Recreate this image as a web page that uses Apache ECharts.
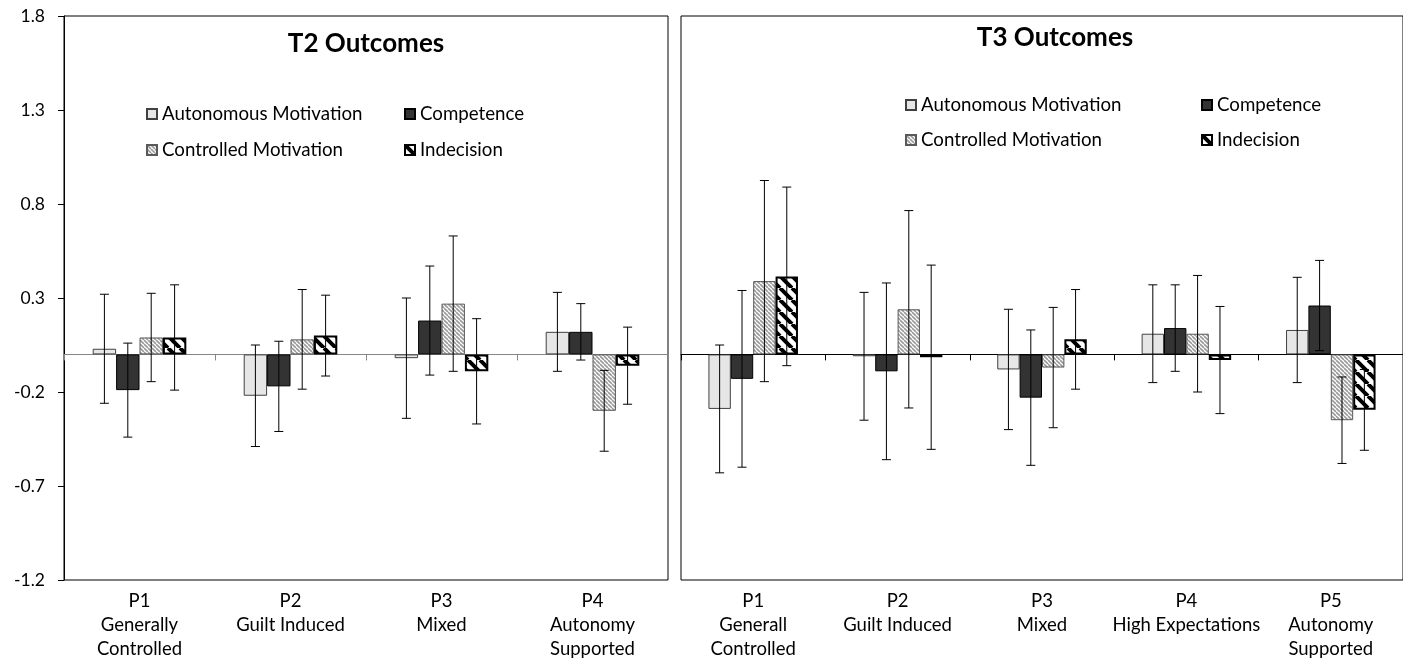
<!DOCTYPE html>
<html>
<head>
<meta charset="utf-8">
<script src="https://cdn.jsdelivr.net/npm/echarts@6/dist/echarts.min.js"></script>
<style>
  html, body { margin: 0; padding: 0; background: #fff; }
  #main { width: 1403px; height: 661px; }
</style>
</head>
<body>
<div id="main"></div>
<script>
var measures = ['Autonomous Motivation', 'Competence', 'Controlled Motivation', 'Indecision'];
var yTicks = [-1.2, -0.7, -0.2, 0.3, 0.8, 1.3, 1.8];

// T2 outcomes (4 profiles)
var t2Cats = ['P1\nGenerally\nControlled', 'P2\nGuilt Induced', 'P3\nMixed', 'P4\nAutonomy\nSupported'];
var t2Auto = [0.03, -0.22, -0.02, 0.12];
var t2Comp = [-0.19, -0.17, 0.18, 0.12];
var t2Ctrl = [0.09, 0.08, 0.27, -0.30];
var t2Indec = [0.09, 0.10, -0.09, -0.06];
var t2AutoErr = [0.29, 0.27, 0.32, 0.21];
var t2CompErr = [0.25, 0.24, 0.29, 0.15];
var t2CtrlErr = [0.235, 0.265, 0.36, 0.215];
var t2IndecErr = [0.28, 0.215, 0.28, 0.205];

// T3 outcomes (5 profiles)
var t3Cats = ['P1\nGenerall\nControlled', 'P2\nGuilt Induced', 'P3\nMixed', 'P4\nHigh Expectations', 'P5\nAutonomy\nSupported'];
var t3Auto = [-0.29, -0.01, -0.08, 0.11, 0.13];
var t3Comp = [-0.13, -0.09, -0.23, 0.14, 0.26];
var t3Ctrl = [0.39, 0.24, -0.07, 0.11, -0.35];
var t3Indec = [0.415, -0.015, 0.08, -0.03, -0.295];
var t3AutoErr = [0.34, 0.34, 0.32, 0.26, 0.28];
var t3CompErr = [0.47, 0.47, 0.36, 0.23, 0.24];
var t3CtrlErr = [0.535, 0.525, 0.32, 0.31, 0.23];
var t3IndecErr = [0.475, 0.49, 0.265, 0.285, 0.215];

var FONT = 'Lato';

// diagonal "\" stripes as a canvas pattern
function stripes(size, width, color) {
    var c = document.createElement('canvas');
    c.width = size; c.height = size;
    var g = c.getContext('2d');
    g.fillStyle = '#fff';
    g.fillRect(0, 0, size, size);
    g.strokeStyle = color;
    g.lineWidth = width;
    g.beginPath();
    for (var k = -1; k <= 1; k++) {
        g.moveTo(k * size, 0);
        g.lineTo(k * size + size, size);
    }
    g.stroke();
    return c;
}

var styles = [
    {color: '#e6e6e6', borderColor: '#404040', borderWidth: 1},
    {color: '#333333', borderColor: '#000', borderWidth: 1},
    {color: {image: stripes(4, 1.6, '#9a9a9a'), repeat: 'repeat'}, borderColor: '#595959', borderWidth: 1},
    {color: {image: stripes(12, 4, '#000'), repeat: 'repeat'}, borderColor: '#000', borderWidth: 2}
];

function barSeries(g, k, vals) {
    return {
        name: measures[k],
        type: 'bar',
        xAxisIndex: g * 2,
        yAxisIndex: g,
        data: vals,
        barGap: '0%',
        barCategoryGap: '38%',
        itemStyle: styles[k],
        emphasis: {disabled: true},
        z: 2
    };
}

function errSeries(g, k, vals, errs) {
    var data = vals.map(function (v, i) { return [i, v - errs[i], v + errs[i]]; });
    return {
        type: 'custom',
        xAxisIndex: g * 2,
        yAxisIndex: g,
        data: data,
        encode: {x: 0, y: [1, 2]},
        silent: true,
        z: 4,
        renderItem: function (params, api) {
            var i = api.value(0);
            var band = api.size([1, 0])[0];
            var bw = band * 0.62 / 4;
            var x = api.coord([i, 0])[0] + (k - 1.5) * bw;
            var yl = api.coord([i, api.value(1)])[1];
            var yh = api.coord([i, api.value(2)])[1];
            var c = 4.5;
            var st = {stroke: '#000', lineWidth: 1};
            return {type: 'group', children: [
                {type: 'line', shape: {x1: x, y1: yl, x2: x, y2: yh}, style: st},
                {type: 'line', shape: {x1: x - c, y1: yh, x2: x + c, y2: yh}, style: st},
                {type: 'line', shape: {x1: x - c, y1: yl, x2: x + c, y2: yl}, style: st}
            ]};
        }
    };
}

function labelAxis(g, cats) {
    return {
        type: 'category', gridIndex: g, data: cats, position: 'bottom',
        axisLine: {show: false, onZero: false},
        axisTick: {show: false},
        axisLabel: {color: '#000', fontFamily: FONT, fontSize: 18.5, lineHeight: 24, margin: 9, interval: 0}
    };
}

function zeroAxis(g, cats, lineColor) {
    return {
        type: 'category', gridIndex: g, data: cats, position: 'bottom',
        axisLine: {show: true, onZero: true, lineStyle: {color: lineColor, width: 1}},
        axisTick: {show: true, length: 6, alignWithLabel: false, interval: 0, lineStyle: {color: lineColor}},
        axisLabel: {show: false},
        splitLine: {show: false}
    };
}

function legendCol(left, top, gap, names) {
    return {
        orient: 'vertical', left: left, top: top, itemGap: gap,
        itemWidth: 10, itemHeight: 10, icon: 'rect',
        data: names, selectedMode: false,
        textStyle: {color: '#000', fontFamily: FONT, fontSize: 18.7, lineHeight: 20}
    };
}

var chart = echarts.init(document.getElementById('main'));

var option = {
    animation: false,
    backgroundColor: '#fff',
    grid: [
        {left: 64, top: 16, width: 604, height: 565, show: true, borderColor: '#000', borderWidth: 1},
        {left: 681, top: 16, width: 737, height: 565, show: true, borderColor: '#000', borderWidth: 1}
    ],
    xAxis: [
        labelAxis(0, t2Cats), zeroAxis(0, t2Cats, '#868686'),
        labelAxis(1, t3Cats), zeroAxis(1, t3Cats, '#000')
    ],
    yAxis: [
        {
            type: 'value', gridIndex: 0, min: -1.2, max: 1.8,
            axisLine: {show: true, lineStyle: {color: '#000'}},
            axisTick: {show: true, length: 6, customValues: yTicks, lineStyle: {color: '#000'}},
            axisLabel: {customValues: yTicks, color: '#000', fontFamily: FONT, fontSize: 17.5, margin: 19,
                formatter: function (v) { return v.toFixed(1); }},
            splitLine: {show: false}
        },
        {
            type: 'value', gridIndex: 1, min: -1.2, max: 1.8, show: false,
            splitLine: {show: false}
        }
    ],
    legend: [
        legendCol(141, 99, 16, [measures[0], measures[2]]),
        legendCol(399, 99, 16, [measures[1], measures[3]]),
        legendCol(900, 90, 15, [measures[0], measures[2]]),
        legendCol(1196, 90, 15, [measures[1], measures[3]])
    ],
    graphic: [
        {type: 'text', x: 366, y: 44, style: {text: 'T2 Outcomes', fill: '#000', font: 'bold 26px ' + FONT, align: 'center', verticalAlign: 'middle'}},
        {type: 'text', x: 1055, y: 38, style: {text: 'T3 Outcomes', fill: '#000', font: 'bold 26px ' + FONT, align: 'center', verticalAlign: 'middle'}}
    ],
    series: [
        barSeries(0, 0, t2Auto), barSeries(0, 1, t2Comp), barSeries(0, 2, t2Ctrl), barSeries(0, 3, t2Indec),
        barSeries(1, 0, t3Auto), barSeries(1, 1, t3Comp), barSeries(1, 2, t3Ctrl), barSeries(1, 3, t3Indec),
        errSeries(0, 0, t2Auto, t2AutoErr), errSeries(0, 1, t2Comp, t2CompErr),
        errSeries(0, 2, t2Ctrl, t2CtrlErr), errSeries(0, 3, t2Indec, t2IndecErr),
        errSeries(1, 0, t3Auto, t3AutoErr), errSeries(1, 1, t3Comp, t3CompErr),
        errSeries(1, 2, t3Ctrl, t3CtrlErr), errSeries(1, 3, t3Indec, t3IndecErr)
    ]
};

chart.setOption(option);
</script>
</body>
</html>
